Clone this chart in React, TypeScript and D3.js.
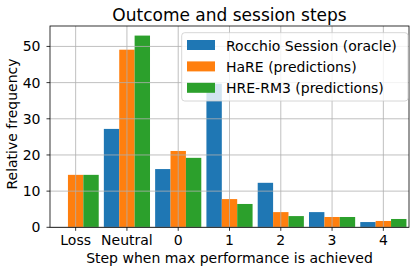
import React from "react";
import * as d3 from "d3";

const categories = ["Loss", "Neutral", "0", "1", "2", "3", "4"];
const seriesNames = ["Rocchio Session (oracle)", "HaRE (predictions)", "HRE-RM3 (predictions)"];
const rocchio = [0, 27.2, 16.1, 39.7, 12.3, 4.2, 1.45];
const hare = [14.5, 49.1, 21.1, 7.8, 4.2, 2.85, 1.75];
const hreRm3 = [14.5, 53.0, 19.2, 6.45, 3.1, 2.85, 2.3];
const yTicks = [0, 10, 20, 30, 40, 50];
const colors = ["#1f77b4", "#ff7f0e", "#2ca02c"];

const W = 416, H = 273;
const L = 50, R = 409, T = 26, B = 227.3;
const FONT = "DejaVu Sans, sans-serif";

export default function App() {
  const series = [rocchio, hare, hreRm3];
  const x = d3.scaleLinear().domain([-0.5, categories.length - 0.5]).range([L, R]);
  const y = d3.scaleLinear().domain([0, 55.65]).range([B, T]);
  const bw = 0.3;
  const bars: React.ReactNode[] = [];
  series.forEach((s, si) => {
    s.forEach((v, i) => {
      const cx = i + (si - 1) * bw;
      const x0 = x(cx - bw / 2);
      const x1 = x(cx + bw / 2);
      bars.push(
        <rect key={`${si}-${i}`} x={x0} y={y(v)} width={x1 - x0} height={y(0) - y(v)} fill={colors[si]} />
      );
    });
  });
  return (
    <svg width={W} height={H} style={{ position: "absolute", left: 0, top: 0 }} fontFamily={FONT}>
      <rect x={0} y={0} width={W} height={H} fill="#fff" />
      {bars}
      {/* grid */}
      {categories.map((c, i) => (
        <line key={"gx" + c} x1={x(i)} x2={x(i)} y1={T} y2={B} stroke="#b0b0b0" strokeWidth={0.8} />
      ))}
      {yTicks.map((t) => (
        <line key={"gy" + t} x1={L} x2={R} y1={y(t)} y2={y(t)} stroke="#b0b0b0" strokeWidth={0.8} />
      ))}
      {/* spines */}
      <rect x={L} y={T} width={R - L} height={B - T} fill="none" stroke="#000" strokeWidth={0.8} />
      {/* ticks */}
      {categories.map((c, i) => (
        <g key={"tx" + c}>
          <line x1={x(i)} x2={x(i)} y1={B} y2={B + 3.5} stroke="#000" strokeWidth={0.8} />
          <text x={x(i)} y={245} textAnchor="middle" fontSize={14} fill="#000">{c}</text>
        </g>
      ))}
      {yTicks.map((t) => (
        <g key={"ty" + t}>
          <line x1={L - 3.5} x2={L} y1={y(t)} y2={y(t)} stroke="#000" strokeWidth={0.8} />
          <text x={L - 9.5} y={y(t)} dy="0.36em" textAnchor="end" fontSize={14} fill="#000">{t}</text>
        </g>
      ))}
      {/* labels */}
      <text x={(L + R) / 2} y={263} textAnchor="middle" fontSize={14} fill="#000">
        Step when max performance is achieved
      </text>
      <text transform={`translate(17.3,124) rotate(-90)`} textAnchor="middle" fontSize={14} fill="#000">
        Relative frequency
      </text>
      <text x={(L + R) / 2} y={20.5} textAnchor="middle" fontSize={17} fill="#000">
        Outcome and session steps
      </text>
      {/* legend */}
      <rect x={181.7} y={32.7} width={226.3} height={68.3} rx={3} fill="#fff" fillOpacity={0.8} stroke="#cccccc" strokeWidth={0.8} />
      {seriesNames.map((n, i) => (
        <g key={n}>
          <rect x={187} y={40 + i * 21.4} width={28} height={10} fill={colors[i]} />
          <text x={226} y={50.5 + i * 21.4} fontSize={14} fill="#000">{n}</text>
        </g>
      ))}
    </svg>
  );
}
